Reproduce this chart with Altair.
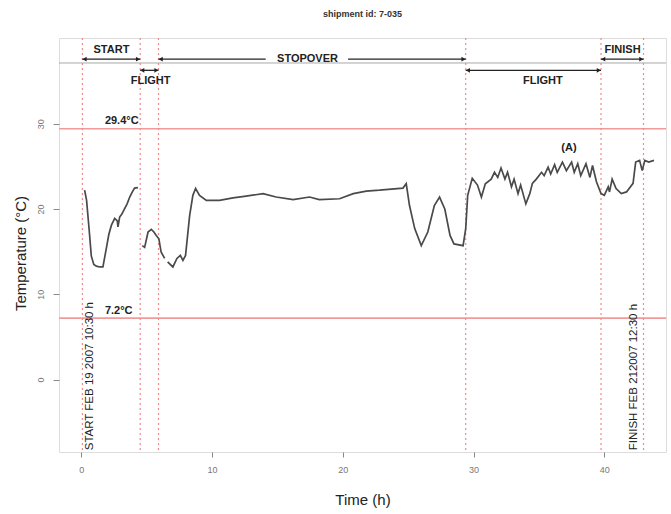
import altair as alt
import pandas as pd

# ---- data ----
seg1_t = [0.25, 0.4, 0.6, 0.76, 0.95, 1.15, 1.4, 1.65, 1.9, 2.1, 2.3, 2.55, 2.75, 2.8, 2.93, 3.1, 3.3, 3.5, 3.7, 3.9, 4.07, 4.33]
seg1_T = [22.2, 21.0, 17.5, 14.5, 13.5, 13.3, 13.2, 13.2, 15.3, 17.0, 18.1, 18.9, 18.6, 17.9, 19.05, 19.4, 20.0, 20.6, 21.4, 22.0, 22.45, 22.5]

seg2_t = [4.66, 4.84, 5.0, 5.1, 5.35, 5.55, 5.73, 5.93, 6.1, 6.37]
seg2_T = [15.7, 15.5, 16.6, 17.3, 17.6, 17.3, 16.9, 16.5, 14.95, 14.2]

seg3_t = [6.6, 7.0, 7.31, 7.57, 7.77, 7.97, 8.28, 8.53, 8.74, 9.04, 9.56, 10.57, 11.6, 12.6, 13.9, 14.9,
          16.2, 17.45, 18.2, 19.75, 20.8, 21.8, 22.8, 24.6, 24.85,
          25.1, 25.5, 26.0, 26.5, 27.0, 27.4, 27.8, 28.2, 28.5, 29.2, 29.4, 29.55, 29.9, 30.3, 30.6, 30.9,
          31.35, 31.6, 31.85, 32.1, 32.4, 32.6, 32.9, 33.1, 33.4, 33.6, 34.0, 34.3, 34.5, 34.8, 35.2, 35.4,
          35.7, 35.9, 36.2, 36.4, 36.8, 37.1, 37.5, 37.7, 37.97, 38.2, 38.6, 38.9, 39.1, 39.4, 39.75, 40.0,
          40.3, 40.4, 40.6, 40.9, 41.3, 41.7, 42.2, 42.4, 42.7, 42.9, 43.1, 43.4, 43.8]
seg3_T = [13.8, 13.2, 14.2, 14.55, 13.97, 14.55, 19.2, 21.6, 22.4, 21.6, 21.0, 21.0, 21.3, 21.5, 21.8, 21.4,
          21.1, 21.4, 21.1, 21.2, 21.8, 22.1, 22.2, 22.45, 22.96,
          20.4, 17.7, 15.7, 17.3, 20.4, 21.4, 20.0, 16.9, 15.9, 15.7, 17.7, 21.6, 23.6, 22.8, 21.4, 22.96,
          23.5, 24.3, 23.7, 24.8, 23.5, 24.3, 22.6, 23.5, 21.8, 22.8, 20.6, 21.8, 23.0, 23.5, 24.3, 23.9,
          24.9, 24.1, 25.2, 24.3, 25.5, 24.5, 25.5, 24.3, 25.3, 23.9, 25.3, 23.7, 25.1, 23.2, 21.8, 21.6,
          22.6, 22.0, 23.5, 22.4, 21.8, 22.0, 23.0, 25.5, 25.7, 24.5, 25.7, 25.5, 25.7]

limits = [29.4, 7.2]
limit_labels = ["29.4°C", "7.2°C"]
phase_bounds = [0.08, 4.5, 5.9, 29.4, 39.75, 43.0]

x_ticks = [0, 10, 20, 30, 40]
y_ticks = [0, 10, 20, 30]
X_DOM = [-1.71, 44.72]
Y_DOM = [-8.5, 40.05]

FONT = "Liberation Sans"

rows = []
for s, (ts, Ts) in enumerate([(seg1_t, seg1_T), (seg2_t, seg2_T), (seg3_t, seg3_T)]):
    for t, T in zip(ts, Ts):
        rows.append({"seg": s, "t": t, "T": T})
curve_df = pd.DataFrame(rows)

xs = alt.Scale(domain=X_DOM, nice=False, zero=False)
ys = alt.Scale(domain=Y_DOM, nice=False, zero=False)

base_x = alt.X("t:Q", scale=xs,
               axis=alt.Axis(values=x_ticks, title="Time (h)", grid=False, domain=False,
                             tickSize=5, tickColor="#888", labelColor="#777", labelFontSize=9,
                             labelFont=FONT, labelPadding=8, titleFont=FONT, titleFontSize=15,
                             titleFontWeight="normal", titleColor="#222", titlePadding=18))
base_y = alt.Y("T:Q", scale=ys,
               axis=alt.Axis(values=y_ticks, title="Temperature (°C)", grid=False, domain=False,
                             tickSize=6, tickColor="#888", labelColor="#777", labelFontSize=9,
                             labelFont=FONT, labelAngle=270, labelAlign="center",
                             labelBaseline="bottom", labelPadding=8,
                             titleFont=FONT, titleFontSize=15, titleFontWeight="normal",
                             titleColor="#222", titleX=-39, titleY=215, titleAngle=270,
                             titleAlign="center", titleBaseline="middle"))

curve = alt.Chart(curve_df).mark_line(color="#4a4a4a", strokeWidth=1.7).encode(
    x=base_x, y=base_y, detail="seg:N")

lim_df = pd.DataFrame({"T": limits, "lab": limit_labels, "ty": [30.3, 8.0]})
hlines = alt.Chart(lim_df).mark_rule(color="#f29a9a", strokeWidth=1.6).encode(
    y=alt.Y("T:Q", scale=ys))
hlab = alt.Chart(lim_df).mark_text(font=FONT, fontSize=11, fontWeight="bold", color="#222",
                                   align="left", baseline="middle").encode(
    x=alt.value((1.8 - X_DOM[0]) / (X_DOM[1] - X_DOM[0]) * 607),
    y=alt.Y("ty:Q", scale=ys), text="lab:N")

vl_df = pd.DataFrame({"t": phase_bounds})
vlines = alt.Chart(vl_df).mark_rule(color="#f08a8a", strokeWidth=1.2, strokeDash=[2, 3]).encode(
    x=alt.X("t:Q", scale=xs))

# header band
hdr_df = pd.DataFrame({"x0": [X_DOM[0]], "x1": [X_DOM[1]], "y": [37.12]})
hdr = alt.Chart(hdr_df).mark_rule(color="#a8a8a8", strokeWidth=1).encode(
    x=alt.X("x0:Q", scale=xs), x2="x1:Q", y=alt.Y("y:Q", scale=ys))

arrows = pd.DataFrame({
    "x0": [0.08, 5.9, 20.4, 4.5, 29.4, 39.75],
    "x1": [4.5, 14.1, 29.4, 5.9, 39.75, 43.0],
    "y": [37.57, 37.57, 37.57, 36.26, 36.26, 37.57],
})
arr = alt.Chart(arrows).mark_rule(color="#222", strokeWidth=1.3).encode(
    x=alt.X("x0:Q", scale=xs), x2="x1:Q", y=alt.Y("y:Q", scale=ys))

heads = pd.DataFrame({
    "x": [0.25, 4.33, 6.07, 29.23, 4.66, 5.74, 29.57, 39.58, 39.92, 42.83],
    "y": [37.57, 37.57, 37.57, 37.57, 36.26, 36.26, 36.26, 36.26, 37.57, 37.57],
    "shape": ["triangle-left", "triangle-right", "triangle-left", "triangle-right", "triangle-left",
              "triangle-right", "triangle-left", "triangle-right", "triangle-left", "triangle-right"],
})
hd = alt.Chart(heads).mark_point(filled=True, color="#222", size=22, opacity=1).encode(
    x=alt.X("x:Q", scale=xs), y=alt.Y("y:Q", scale=ys),
    shape=alt.Shape("shape:N", scale=None, legend=None))

labels = pd.DataFrame({
    "x": [2.3, 17.3, 41.4, 5.3, 35.3, 37.3],
    "y": [38.68, 37.6, 38.68, 34.97, 34.97, 27.19],
    "txt": ["START", "STOPOVER", "FINISH", "FLIGHT", "FLIGHT", "(A)"],
})
lab = alt.Chart(labels).mark_text(font=FONT, fontSize=11, fontWeight="bold", color="#222",
                                  baseline="middle").encode(
    x=alt.X("x:Q", scale=xs), y=alt.Y("y:Q", scale=ys), text="txt:N")

vt = pd.DataFrame({
    "x": [0.63, 42.3],
    "y": [-8.3, -8.3],
    "txt": ["START FEB 19 2007 10:30 h", "FINISH FEB 212007 12:30 h"],
})
vtext = alt.Chart(vt).mark_text(font=FONT, fontSize=11.5, color="#222", angle=270,
                                align="left", baseline="middle").encode(
    x=alt.X("x:Q", scale=xs), y=alt.Y("y:Q", scale=ys), text="txt:N")

chart = alt.layer(hlines, vlines, hdr, arr, hd, curve, hlab, lab, vtext).properties(
    width=607, height=414,
    title=alt.TitleParams("shipment id: 7-035", font=FONT, fontSize=9, fontWeight="bold",
                          color="#333", anchor="middle", offset=18),
    autosize=alt.AutoSizeParams(type="none"),
    padding={"left": 59, "top": 38, "right": 5, "bottom": 62},
).configure_view(stroke="#9a9a9a", strokeWidth=2).configure(background="white")

chart.save("out.html", embed_options={"renderer": "svg", "actions": False})
